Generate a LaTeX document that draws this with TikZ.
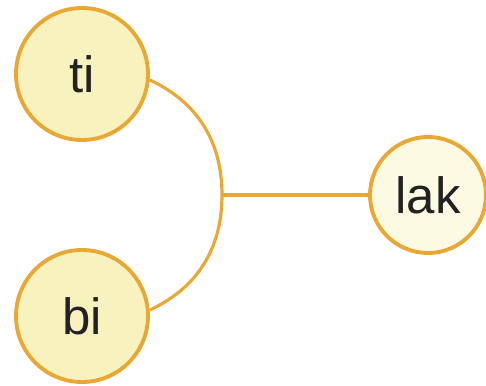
\documentclass[tikz,border=0pt]{standalone}
\usepackage{fontspec}
\setmainfont{Liberation Sans}
\usetikzlibrary{positioning,calc}
\definecolor{rim}{HTML}{E9A833}
\definecolor{yolk}{HTML}{F8F2BE}
\definecolor{cream}{HTML}{FDFAE4}
\definecolor{ink}{HTML}{222222}

\begin{document}
\begin{tikzpicture}[
    word/.style={circle, draw=rim, line width=2.2pt, minimum size=2.64cm, inner sep=0pt,
      fill=yolk, text=ink, font=\fontsize{29}{31}\selectfont},
    link/.style={draw=rim, line width=1.8pt}
  ]
  \useasboundingbox (0,0) rectangle (9.72,-7.72);

  \node[word] (ti) at (1.64,-1.48) {ti};
  \node[word] (bi) at (1.64,-6.32) {bi};
  \node[word, fill=cream, minimum size=2.32cm] (lak) at (8.56,-3.90) {lak};

  % join point of the two branches
  \coordinate (join) at (4.44,-3.90);

  \draw[link] (ti.-5) to[out=-25, in=90] (join) to[out=-90, in=25] (bi.5);
  \draw[link] (join) -- (lak);
\end{tikzpicture}
\end{document}
